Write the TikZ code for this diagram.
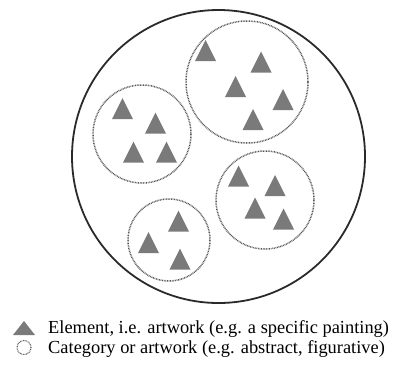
\documentclass[tikz,border=0pt]{standalone}
\usepackage{fontspec}
\setmainfont{Liberation Serif}
\definecolor{trigray}{HTML}{7A7A7A}
\definecolor{dotgray}{HTML}{555555}
\definecolor{rimgray}{HTML}{2A2A2A}
\tikzset{
  rim/.style={draw=rimgray, line width=1.8pt},
  category/.style={draw=dotgray, line width=1.5pt, dash pattern=on 0.8pt off 0.8pt},
  legendtext/.style={anchor=base west, inner sep=0pt, font=\fontsize{18.4}{21}\selectfont}
}
\newcommand{\arttri}[2]{\fill[trigray] (#1,#2) -- ++(10.5,21) -- ++(-21,0) -- cycle;}
\begin{document}
\begin{tikzpicture}[x=1pt,y=-1pt]
\useasboundingbox (0,0) rectangle (395,376);
% outer circle
\draw[rim] (218.5,156.5) circle[radius=146.5];
% categories
\draw[category] (247,82) circle[radius=61];
\draw[category] (142,134) circle[radius=49];
\draw[category] (265,200) circle[radius=49];
\draw[category] (169,240) circle[radius=41];
% elements, category 1
\arttri{205.5}{40}
\arttri{261}{51.5}
\arttri{235.5}{76}
\arttri{283}{89}
\arttri{253}{109}
% category 2
\arttri{122.5}{98}
\arttri{155.5}{112.5}
\arttri{133.5}{141.5}
\arttri{166.5}{141.5}
% category 3
\arttri{238.5}{165.5}
\arttri{275}{175}
\arttri{255}{197.5}
\arttri{283.5}{208.5}
% category 4
\arttri{178.5}{210.5}
\arttri{148.5}{232}
\arttri{180}{248.5}
% legend
\fill[trigray] (24,321) -- (35,335) -- (13,335) -- cycle;
\node[legendtext] (l1) at (48,333) {Element, i.e. artwork (e.g. a specific painting)};
\draw[category, line width=1.1pt] (24,347.5) circle[radius=7];
\node[legendtext] (l2) at (48,353) {Category or artwork (e.g. abstract, figurative)};
\end{tikzpicture}
\end{document}
